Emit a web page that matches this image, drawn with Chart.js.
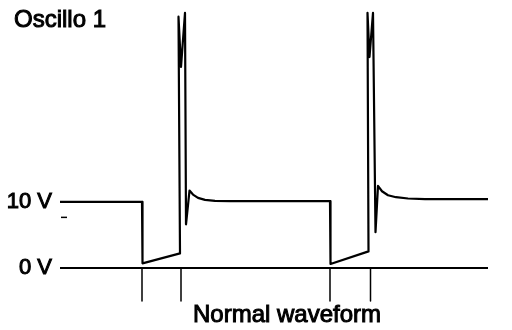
<!DOCTYPE html>
<html><head><meta charset="utf-8">
<script src="https://cdn.jsdelivr.net/npm/chart.js@4.4.1/dist/chart.umd.min.js"></script>
<style>
html,body{margin:0;padding:0;background:#fff;}
#wrap{position:relative;width:512px;height:330px;overflow:hidden;background:#fff;}
canvas{position:absolute;left:0;top:0;}
.t{position:absolute;font-family:"Liberation Sans",Arial,sans-serif;font-size:24px;line-height:24px;color:#000;white-space:nowrap;-webkit-text-stroke:1px #000;}
</style></head><body>
<div id="wrap"><canvas id="c" width="512" height="330"></canvas>
<div class="t" id="title" style="left:14px;top:7px"></div>
<div class="t" id="caption" style="left:193px;top:302px"></div>
</div>
<script>
const chartTitle = "Oscillo 1";
const caption = "Normal waveform";
const voltTicks = [0, 10];
const tickUnit = " V";

// waveform (time in arbitrary divisions, volts)
const waveTime  = [0, 8.2, 8.25, 12.0, 11.85, 12.1, 12.5, 12.6, 12.95, 13.3, 13.8, 14.5, 15.5, 17.0, 27.0, 27.05, 30.85, 30.75, 30.95, 31.3, 31.55, 31.8, 32.2, 32.8, 33.6, 34.8, 36.5, 42.8];
const waveVolts = [10.0, 10.0, 0.7, 2.2, 38.0, 30.4, 38.6, 6.6, 11.7, 11.1, 10.6, 10.3, 10.15, 10.1, 10.1, 0.6, 2.5, 38.6, 31.9, 38.6, 5.4, 12.4, 11.6, 11.0, 10.7, 10.5, 10.4, 10.4];

// 0 V reference line
const zeroTime  = [0, 42.8];
const zeroVolts = [0, 0];

// timing markers below the baseline
const markerTimes = [8.2, 12.1, 27.0, 31.05];
const markerVolts = [0, -5];

// small tick dash under the 10 V label
const dashTime  = [0.1, 0.7];
const dashVolts = [7.65, 7.65];

document.getElementById('title').textContent = chartTitle;
document.getElementById('caption').textContent = caption;

const pts = (xs, ys) => xs.map((x, i) => ({x: x, y: ys[i]}));
const lineDs = (data, w) => ({data: data, borderColor: '#000', backgroundColor: '#000', borderWidth: w, pointRadius: 0, tension: 0, fill: false, borderJoinStyle: 'round', borderCapStyle: 'butt', clip: 6});

const datasets = [
  lineDs(pts(zeroTime, zeroVolts), 2),
  lineDs(pts(dashTime, dashVolts), 1.5),
  lineDs(pts(waveTime, waveVolts), 2.2)
];
markerTimes.forEach(t => datasets.push(lineDs(pts([t, t], markerVolts), 1.5)));

new Chart(document.getElementById('c'), {
  type: 'line',
  data: {datasets: datasets},
  options: {
    responsive: false,
    devicePixelRatio: 1,
    animation: false,
    events: [],
    layout: {padding: {left: 0, right: 22, top: 0, bottom: 29}},
    plugins: {legend: {display: false}, tooltip: {enabled: false}, title: {display: false}},
    scales: {
      x: {type: 'linear', min: 0, max: 43, display: false},
      y: {
        type: 'linear', min: -5, max: 39.3,
        grid: {display: false, drawTicks: false},
        border: {display: false},
        afterBuildTicks: (axis) => { axis.ticks = voltTicks.map(v => ({value: v})); },
        afterFit: (axis) => { axis.width = 60; },
        ticks: {
          color: '#000', padding: 8,
          textStrokeColor: '#000', textStrokeWidth: 1,
          font: {family: '"Liberation Sans", Arial, sans-serif', size: 22, lineHeight: 0.01},
          callback: (v) => v + tickUnit
        }
      }
    }
  }
});
</script>
</body></html>
